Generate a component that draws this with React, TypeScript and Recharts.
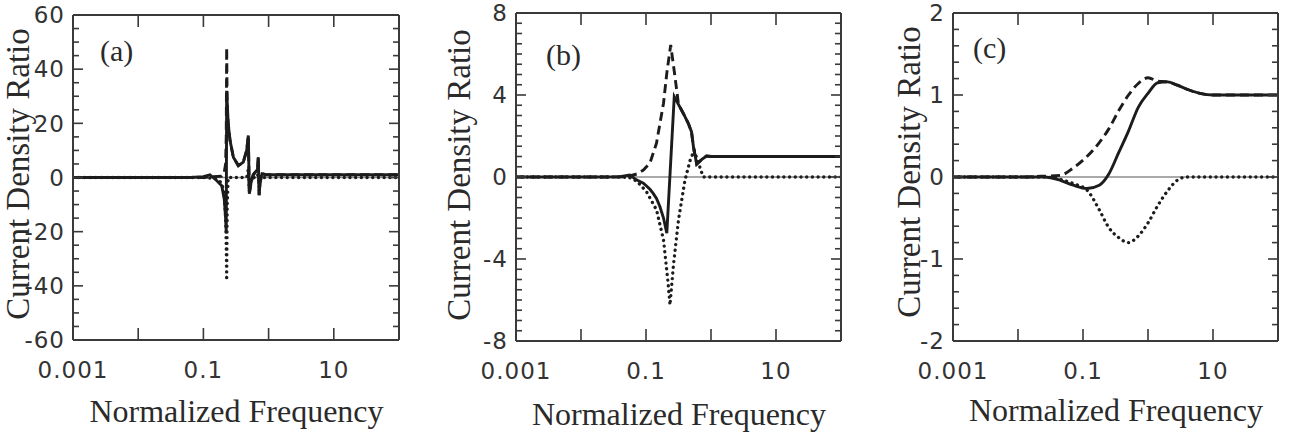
import React from "react";
import { LineChart, Line, XAxis, YAxis, ReferenceLine } from "recharts";

// shared x axis (log frequency)
const xTicks = [0.001, 0.01, 0.1, 1, 10, 100];
const xTickLabels = ["0.001", "", "0.1", "", "10", ""];

// panel (a)
const aYTicks = [-60, -55, -50, -45, -40, -35, -30, -25, -20, -15, -10, -5, 0, 5, 10, 15, 20, 25, 30, 35, 40, 45, 50, 55, 60];
const aYLabels = [-60, -40, -20, 0, 20, 40, 60];
const aSolidF = [0.001, 0.01, 0.0631, 0.1, 0.126, 0.158, 0.191, 0.209, 0.219, 0.224, 0.2275, 0.24, 0.256, 0.288, 0.343, 0.409, 0.461, 0.489, 0.506, 0.537, 0.582, 0.676, 0.695, 0.716, 0.738, 0.794, 0.933, 10, 100];
const aSolidV = [0, 0, 0, 0.3, 1, -1, -3, -8, -15, -20, 32, 20, 13.7, 7.5, 4.4, 5.7, 10, 15.5, -6, -2, 1, 3, 7.5, -6.5, -2, 1.4, 1, 1, 1];
const aDashedF = [0.001, 0.01, 0.1, 0.191, 0.209, 0.219, 0.224, 0.2275, 0.232, 0.24, 0.256, 0.288, 0.343, 0.409, 0.461, 0.489, 0.506, 0.537, 0.582, 0.676, 0.695, 0.716, 0.738, 0.794, 0.933, 10, 100];
const aDashedV = [0, 0, 0, 0.5, 2, 5, 15, 48, 25, 20, 13.7, 7.5, 4.4, 5.7, 10, 15.5, -6, -2, 1, 3, 7.5, -6.5, -2, 1.4, 1, 1, 1];
const aDottedF = [0.001, 0.01, 0.1, 0.158, 0.191, 0.209, 0.219, 0.224, 0.2275, 0.232, 0.24, 0.3, 0.461, 0.489, 0.506, 0.537, 0.676, 0.695, 0.716, 0.738, 10, 100];
const aDottedV = [0, 0, 0, -0.5, -2, -6, -15, -25, -38, -10, 0, 0, 0, 3, -5, 0, 0, 4, -4, 0, 0, 0];

// panel (b)
const bYTicks = [-8, -7.5, -7, -6.5, -6, -5.5, -5, -4.5, -4, -3.5, -3, -2.5, -2, -1.5, -1, -0.5, 0, 0.5, 1, 1.5, 2, 2.5, 3, 3.5, 4, 4.5, 5, 5.5, 6, 6.5, 7, 7.5, 8];
const bYLabels = [-8, -4, 0, 4, 8];
const bSolidF = [0.001, 0.01, 0.0251, 0.0398, 0.0562, 0.0724, 0.0912, 0.102, 0.115, 0.129, 0.145, 0.164, 0.186, 0.209, 0.272, 0.375, 0.447, 0.501, 0.537, 0.603, 0.724, 0.851, 1, 10, 100];
const bSolidV = [0, 0, 0, 0.02, 0.1, -0.15, -0.3, -0.44, -0.6, -0.8, -1.05, -1.45, -2.0, -2.74, 3.92, 3.1, 2.62, 2.21, 1.48, 0.63, 0.86, 1.02, 1.0, 1.0, 1.0];
const bDashedF = [0.001, 0.01, 0.0398, 0.0562, 0.0724, 0.0912, 0.115, 0.145, 0.186, 0.209, 0.24, 0.279, 0.316, 0.375, 0.447, 0.501, 0.537, 0.603, 0.724, 0.851, 1, 10, 100];
const bDashedV = [0, 0, 0, 0.05, 0.15, 0.34, 0.68, 1.65, 3.6, 5.07, 6.44, 4.9, 3.55, 3.1, 2.62, 2.21, 1.48, 0.63, 0.86, 1.02, 1.0, 1.0, 1.0];
const bDottedF = [0.001, 0.01, 0.0251, 0.0398, 0.0562, 0.0724, 0.102, 0.145, 0.186, 0.219, 0.234, 0.263, 0.316, 0.398, 0.479, 0.55, 0.638, 0.759, 1, 10, 100];
const bDottedV = [0, 0, 0, 0, -0.03, -0.2, -0.72, -1.6, -3.07, -5.2, -6.24, -4.37, -2.1, -0.15, 0.83, 1.3, 0.7, 0, 0, 0, 0];

// panel (c)
const cYTicks = [-2, -1.8, -1.6, -1.4, -1.2, -1, -0.8, -0.6, -0.4, -0.2, 0, 0.2, 0.4, 0.6, 0.8, 1, 1.2, 1.4, 1.6, 1.8, 2];
const cYLabels = [-2, -1, 0, 1, 2];
const cFreq = [0.001, 0.00316, 0.01, 0.0251, 0.0447, 0.0708, 0.115, 0.178, 0.251, 0.355, 0.501, 0.708, 1, 1.41, 2.0, 2.82, 3.98, 6.31, 10, 31.6, 100];
const cSolid = [0, 0, 0, 0, -0.04, -0.1, -0.14, -0.1, 0.04, 0.3, 0.56, 0.85, 1.02, 1.15, 1.16, 1.12, 1.07, 1.02, 1.0, 1.0, 1.0];
const cDashed = [0, 0, 0, 0.01, 0.02, 0.11, 0.25, 0.42, 0.59, 0.81, 1.0, 1.14, 1.21, 1.17, 1.16, 1.12, 1.07, 1.02, 1.0, 1.0, 1.0];
const cDotted = [0, 0, 0, 0, -0.03, -0.08, -0.16, -0.4, -0.62, -0.74, -0.8, -0.72, -0.56, -0.35, -0.17, -0.04, 0, 0, 0, 0, 0];

const H = 434;
const AXIS = "#3a3a3a";
const INK = "#1c1c1c";
const tickFont = { fontFamily: "DejaVu Sans", fontSize: 23, fill: "#333", letterSpacing: 1 };
const serif = { fontFamily: "Liberation Serif", fill: "#2a2a2a" };
const axisLine = { stroke: AXIS, strokeWidth: 2 };

const rows = (f: number[], v: number[]) => f.map((x, i) => ({ f: x, v: v[i] }));

// tick marks drawn as thin rects pointing into the plot
const LeftTick = (p: any) => {
  const x = Number(p.x);
  const y = Number(p.y);
  const major = p.majors.includes(p.payload.value);
  return (
    <g>
      <rect x={x} y={y - 0.8} width={major ? 10 : 6} height={1.6} fill={AXIS} />
      {major && (
        <text x={x - 8} y={y} dy="0.36em" textAnchor="end" {...tickFont}>
          {String(p.payload.value)}
        </text>
      )}
    </g>
  );
};

const RightTick = (p: any) => {
  const x = Number(p.x);
  const y = Number(p.y);
  const len = p.majors.includes(p.payload.value) ? 10 : 6;
  return <rect x={x - len} y={y - 0.8} width={len} height={1.6} fill={AXIS} />;
};

const BottomTick = (p: any) => {
  const x = Number(p.x);
  const y = Number(p.y);
  const label = xTickLabels[xTicks.indexOf(p.payload.value)];
  return (
    <g>
      <rect x={x - 0.8} y={y - 12} width={1.6} height={12} fill={AXIS} />
      {label && (
        <text x={x} y={y + 38} textAnchor="middle" {...tickFont}>
          {label}
        </text>
      )}
    </g>
  );
};

const TopTick = (p: any) => {
  const x = Number(p.x);
  const y = Number(p.y);
  return <rect x={x - 0.8} y={y} width={1.6} height={12} fill={AXIS} />;
};

type S = { f: number[]; v: number[]; kind: "solid" | "dashed" | "dotted" };

const Panel = ({ width, left, right, top, bottom, domain, yTicks, yLabels, series, curve, letter, letterX, letterY, yTitleX, yTitleY, xTitleY }: any) => {
  const xMid = (left + width - right) / 2;
  const logX = { type: "number" as const, scale: "log" as const, domain: [0.001, 100], allowDataOverflow: true, ticks: xTicks, interval: 0 as const, tickSize: 0, tickMargin: 0, tickLine: false };
  const linY = { type: "number" as const, domain, allowDataOverflow: true, interval: 0 as const, ticks: yTicks, tickSize: 0, tickMargin: 0, tickLine: false };
  return (
    <LineChart width={width} height={H} margin={{ top, right, bottom: 0, left: 0 }}>
      <XAxis xAxisId="b" dataKey="f" {...logX} height={H - bottom} axisLine={axisLine}
        tick={(p: any) => <BottomTick {...p} />} />
      <XAxis xAxisId="t" orientation="top" dataKey="f" {...logX} height={1} axisLine={axisLine}
        tick={(p: any) => <TopTick {...p} />} />
      <YAxis yAxisId="l" {...linY} width={left} axisLine={axisLine}
        tick={(p: any) => <LeftTick {...p} majors={yLabels} />} />
      <YAxis yAxisId="r" orientation="right" {...linY} width={1} axisLine={axisLine}
        tick={(p: any) => <RightTick {...p} majors={yLabels} />} />
      <ReferenceLine xAxisId="b" yAxisId="l" y={0} stroke="#8c8c8c" strokeWidth={1.3} />
      {series.map((s: S, i: number) => (
        <Line key={i} xAxisId="b" yAxisId="l" data={rows(s.f, s.v)} dataKey="v" type={curve}
          stroke={INK} dot={false} activeDot={false} isAnimationActive={false}
          strokeWidth={s.kind === "dotted" ? 3.3 : 2.9}
          strokeDasharray={s.kind === "dashed" ? "9 5" : s.kind === "dotted" ? "0.1 5.6" : undefined}
          strokeLinecap={s.kind === "dotted" ? "round" : "butt"} />
      ))}
      <text x={letterX} y={letterY} fontSize={30} {...serif}>{letter}</text>
      <text x={yTitleX} y={yTitleY} transform={`rotate(-90 ${yTitleX} ${yTitleY})`} textAnchor="middle" fontSize={33} {...serif}>
        Current Density Ratio
      </text>
      <text x={xMid} y={xTitleY} textAnchor="middle" fontSize={32} {...serif}>
        Normalized Frequency
      </text>
    </LineChart>
  );
};

export default function App() {
  return (
    <div style={{ position: "absolute", left: 0, top: 0, width: 1289, height: H, background: "#fff", display: "flex" }}>
      <Panel width={430} left={73} right={30} top={14} bottom={340} domain={[-60, 60]}
        yTicks={aYTicks} yLabels={aYLabels} curve="linear"
        series={[
          { f: aDottedF, v: aDottedV, kind: "dotted" },
          { f: aDashedF, v: aDashedV, kind: "dashed" },
          { f: aSolidF, v: aSolidV, kind: "solid" },
        ]}
        letter="(a)" letterX={100} letterY={61} yTitleX={29} yTitleY={174} xTitleY={422} />
      <Panel width={430} left={86} right={18} top={12} bottom={341} domain={[-8, 8]}
        yTicks={bYTicks} yLabels={bYLabels} curve="linear"
        series={[
          { f: bDottedF, v: bDottedV, kind: "dotted" },
          { f: bDashedF, v: bDashedV, kind: "dashed" },
          { f: bSolidF, v: bSolidV, kind: "solid" },
        ]}
        letter="(b)" letterX={116} letterY={65} yTitleX={40} yTitleY={175} xTitleY={425} />
      <Panel width={429} left={93} right={10} top={12} bottom={341} domain={[-2, 2]}
        yTicks={cYTicks} yLabels={cYLabels} curve="monotone"
        series={[
          { f: cFreq, v: cDotted, kind: "dotted" },
          { f: cFreq, v: cDashed, kind: "dashed" },
          { f: cFreq, v: cSolid, kind: "solid" },
        ]}
        letter="(c)" letterX={113} letterY={58} yTitleX={60} yTitleY={172} xTitleY={421} />
    </div>
  );
}
